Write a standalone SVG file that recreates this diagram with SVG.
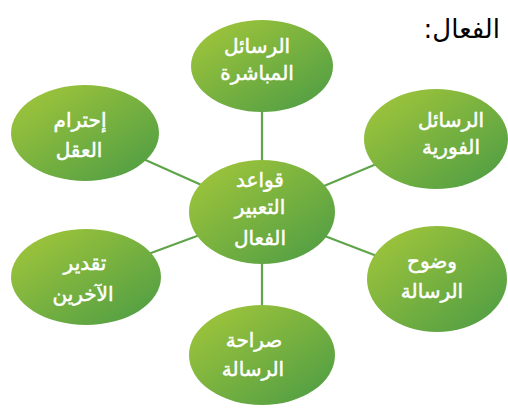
<svg xmlns="http://www.w3.org/2000/svg" width="508" height="409" viewBox="0 0 508 409">
<defs>
<linearGradient id="g" x1="0" y1="0" x2="1" y2="1">
<stop offset="0" stop-color="#a6c83a"/>
<stop offset="1" stop-color="#4a9b45"/>
</linearGradient>
</defs>
<style>
.n{fill:url(#g)}
.t{fill:#fff;stroke:#fff;stroke-width:0.5;font-family:"DejaVu Sans",sans-serif;font-size:20px;text-anchor:middle;direction:rtl}
.c{stroke:#5ea54a;stroke-width:2.2;fill:none}
</style>
<rect width="508" height="409" fill="#fff"/>
<text x="500" y="38" font-family="DejaVu Sans,sans-serif" font-size="26" direction="rtl" fill="#000">الفعال:</text>
<g id="connectors">
<line class="c" x1="262" y1="66" x2="262" y2="355"/>
<line class="c" x1="85" y1="133" x2="262" y2="212"/>
<line class="c" x1="436" y1="139" x2="262" y2="212"/>
<line class="c" x1="86" y1="277" x2="262" y2="212"/>
<line class="c" x1="437" y1="279" x2="262" y2="212"/>
</g>
<g id="n-top"><ellipse class="n" cx="262" cy="66" rx="71" ry="46"/>
<text class="t" x="257" y="53">الرسائل</text><text class="t" x="257" y="80">المباشرة</text></g>
<g id="n-center"><ellipse class="n" cx="262" cy="212" rx="73" ry="52"/>
<text class="t" x="260" y="187">قواعد</text><text class="t" x="260" y="214">التعبير</text><text class="t" x="260" y="245">الفعال</text></g>
<g id="n-lefttop"><ellipse class="n" cx="85" cy="133" rx="74" ry="48"/>
<text class="t" x="80" y="127">إحترام</text><text class="t" x="79" y="157">العقل</text></g>
<g id="n-righttop"><ellipse class="n" cx="436" cy="139" rx="72" ry="50"/>
<text class="t" x="451" y="127">الرسائل</text><text class="t" x="451" y="154">الفورية</text></g>
<g id="n-leftbottom"><ellipse class="n" cx="86" cy="277" rx="75" ry="48"/>
<text class="t" x="85" y="270">تقدير</text><text class="t" x="83" y="301">الآخرين</text></g>
<g id="n-rightbottom"><ellipse class="n" cx="437" cy="279" rx="70" ry="53"/>
<text class="t" x="432" y="268">وضوح</text><text class="t" x="432" y="298">الرسالة</text></g>
<g id="n-bottom"><ellipse class="n" cx="262" cy="355" rx="73" ry="50"/>
<text class="t" x="254" y="347">صراحة</text><text class="t" x="253" y="376">الرسالة</text></g>
</svg>
